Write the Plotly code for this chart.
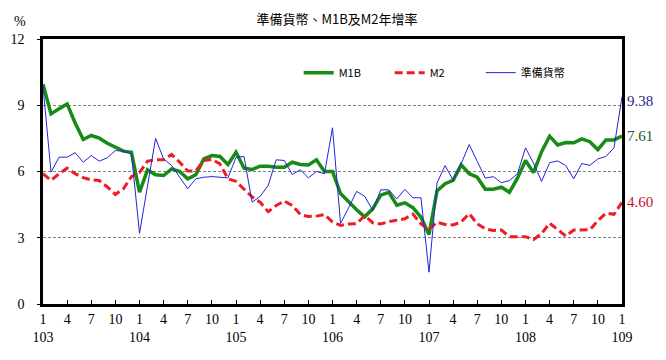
import plotly.graph_objects as go

months = list(range(73))  # 103/1 .. 109/1

m1b = [9.95, 8.61, 8.84, 9.06, 8.20, 7.45, 7.63, 7.51, 7.28, 7.10, 6.92, 6.87,
       5.06, 6.07, 5.85, 5.82, 6.12, 6.00, 5.67, 5.85, 6.57, 6.72, 6.68, 6.32,
       6.87, 6.15, 6.09, 6.24, 6.24, 6.19, 6.19, 6.42, 6.32, 6.30, 6.53, 6.00,
       6.00, 5.00, 4.61, 4.27, 3.95, 4.31, 4.93, 5.06, 4.47, 4.58, 4.36, 3.93,
       3.15, 5.12, 5.45, 5.60, 6.30, 5.90, 5.74, 5.20, 5.20, 5.29, 5.06, 5.70,
       6.50, 5.95, 6.90, 7.60, 7.20, 7.31, 7.30, 7.48, 7.35, 6.99, 7.43, 7.43,
       7.61]

m2 = [5.90, 5.60, 5.90, 6.15, 5.90, 5.72, 5.62, 5.59, 5.30, 4.96, 5.22, 5.77,
      5.95, 6.47, 6.53, 6.53, 6.77, 6.42, 6.02, 6.03, 6.50, 6.55, 6.35, 5.67,
      5.55, 5.20, 4.85, 4.61, 4.18, 4.46, 4.66, 4.46, 4.05, 3.96, 3.98, 4.05,
      3.71, 3.56, 3.62, 3.63, 4.00, 3.68, 3.62, 3.73, 3.78, 3.86, 4.07, 3.63,
      3.38, 3.70, 3.60, 3.58, 3.72, 4.09, 3.63, 3.40, 3.33, 3.35, 3.05, 3.06,
      3.05, 2.92, 3.18, 3.66, 3.38, 3.08, 3.35, 3.36, 3.36, 3.78, 4.11, 4.06,
      4.60]

reserve = [9.85, 5.97, 6.65, 6.65, 6.85, 6.42, 6.72, 6.47, 6.62, 6.95, 6.92, 6.80,
           3.20, 5.37, 7.50, 6.57, 6.27, 5.74, 5.22, 5.67, 5.74, 5.77, 5.74, 5.71,
           6.64, 6.68, 4.61, 4.87, 5.37, 6.53, 6.50, 5.86, 6.08, 5.71, 6.00, 5.90,
           7.98, 3.65, 4.35, 5.10, 4.88, 4.24, 5.17, 5.17, 4.76, 5.19, 4.81, 4.81,
           1.44, 5.48, 6.27, 5.60, 6.35, 7.22, 6.46, 5.70, 5.77, 5.49, 5.59, 5.90,
           7.07, 6.38, 5.55, 6.40, 6.48, 6.27, 5.67, 6.36, 6.28, 6.57, 6.68, 7.07,
           9.38]

month_labels = ["1", "4", "7", "10"]
year_labels = ["103", "104", "105", "106", "107", "108", "109"]
tick_vals = list(range(0, 73, 3))
tick_text = []
for i, v in enumerate(tick_vals):
    m = month_labels[i % 4]
    if i % 4 == 0:
        tick_text.append(f"{m}<br>{year_labels[i // 4]}")
    else:
        tick_text.append(m)

y_ticks = [0, 3, 6, 9, 12]

GREEN = "#178a17"
RED = "#ee1c24"
BLUE = "#2424d8"
NUM_FONT = "Liberation Serif"

# page body has an 8px margin, so the figure is sized 658x352
W, H = 658, 352

fig = go.Figure()
fig.add_trace(go.Scatter(x=months, y=m1b, mode="lines", name="M1B",
                         line=dict(color=GREEN, width=3.5)))
fig.add_trace(go.Scatter(x=months, y=m2, mode="lines", name="M2",
                         line=dict(color=RED, width=3, dash="8px,4px")))
fig.add_trace(go.Scatter(x=months, y=reserve, mode="lines", name="準備貨幣",
                         line=dict(color=BLUE, width=1)))

# end-value labels
ends = [(reserve[-1], "#28288c", -4), (m1b[-1], "#1c5a1c", 0), (m2[-1], "#c8102e", 0)]
for val, col, ys in ends:
    fig.add_annotation(x=72, y=val, xref="x", yref="y", text=f"{val:.2f}",
                       showarrow=False, xanchor="left", yanchor="middle",
                       xshift=3, yshift=ys,
                       font=dict(family=NUM_FONT, size=15, color=col))

# percent sign
fig.add_annotation(x=-0.04, y=1.0, xref="paper", yref="paper", text="%",
                   showarrow=False, xanchor="center", yanchor="bottom", yshift=8,
                   font=dict(family=NUM_FONT, size=14, color="black"))

fig.update_layout(
    width=W, height=H,
    margin=dict(l=35, r=44, t=31, b=56, autoexpand=False),
    paper_bgcolor="white", plot_bgcolor="white",
    title=dict(text="準備貨幣、M1B及M2年增率", x=0.5, xanchor="center",
               y=1 - 7 / H, yanchor="top",
               font=dict(family="Noto Sans CJK TC", size=13, color="black")),
    showlegend=True,
    legend=dict(orientation="h", x=0.4416, xanchor="left", y=0.873, yanchor="middle",
                font=dict(family="Noto Sans CJK TC", size=11, color="black"),
                bgcolor="rgba(255,255,255,0)", entrywidth=46, entrywidthmode="pixels",
                tracegroupgap=0, itemwidth=30),
    font=dict(family=NUM_FONT, size=14, color="black"),
)

fig.update_xaxes(range=[0, 72], tickmode="array", tickvals=tick_vals, ticktext=tick_text,
                 ticks="inside", ticklen=4, tickcolor="black", tickwidth=1,
                 showline=True, linecolor="black", linewidth=2.5, mirror=True,
                 showgrid=False, zeroline=False, automargin=False,
                 tickfont=dict(family=NUM_FONT, size=14, color="black"))
fig.update_yaxes(range=[0, 12], tickmode="array", tickvals=y_ticks,
                 ticktext=[str(v) for v in y_ticks],
                 ticks="outside", ticklen=3, tickcolor="black",
                 showline=True, linecolor="black", linewidth=2.5, mirror=True,
                 showgrid=True, gridcolor="#808080", gridwidth=1, griddash="3px,2px",
                 zeroline=False, ticklabelstandoff=10, automargin=False,
                 tickfont=dict(family=NUM_FONT, size=14, color="black"))

fig.write_html("out.html")
